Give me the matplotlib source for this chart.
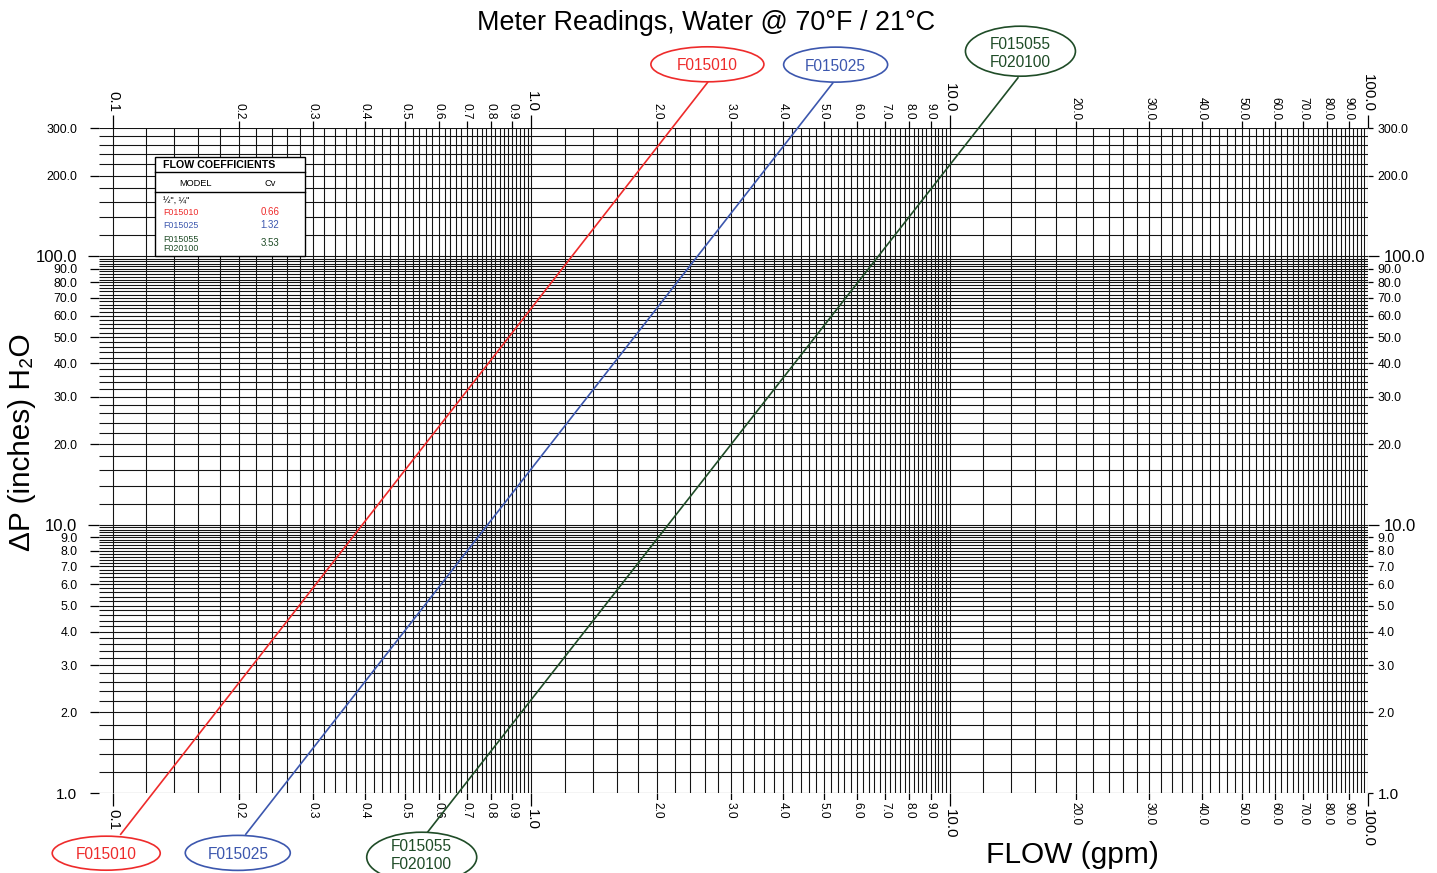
import numpy as np
import matplotlib
matplotlib.use('Agg')
import matplotlib.pyplot as plt
from matplotlib.patches import Ellipse, Rectangle
from matplotlib.ticker import NullLocator
from matplotlib import font_manager

W, H, DPI = 1437, 873, 100

# ---------------- data ----------------
model_names = ['F015010', 'F015025', 'F015055\nF020100']
cv_values = ['0.66', '1.32', '3.53']
line_colors = ['#ee2b2b', '#3c57ae', '#1f4c27']

red_flow = [0.104, 2.645]
red_dp = [0.70, 447]
blue_flow = [0.207, 5.27]
blue_dp = [0.70, 445]
green_flow = [0.562, 14.6]
green_dp = [0.71, 465]

x_tick_values = [0.1, 0.2, 0.3, 0.4, 0.5, 0.6, 0.7, 0.8, 0.9,
                 1.0, 2.0, 3.0, 4.0, 5.0, 6.0, 7.0, 8.0, 9.0,
                 10.0, 20.0, 30.0, 40.0, 50.0, 60.0, 70.0, 80.0, 90.0, 100.0]
x_tick_labels = ['0.1', '0.2', '0.3', '0.4', '0.5', '0.6', '0.7', '0.8', '0.9',
                 '1.0', '2.0', '3.0', '4.0', '5.0', '6.0', '7.0', '8.0', '9.0',
                 '10.0', '20.0', '30.0', '40.0', '50.0', '60.0', '70.0', '80.0', '90.0', '100.0']
y_tick_values = [1, 2, 3, 4, 5, 6, 7, 8, 9, 10, 20, 30, 40, 50, 60, 70, 80, 90, 100, 200, 300]
y_tick_labels = ['1.0', '2.0', '3.0', '4.0', '5.0', '6.0', '7.0', '8.0', '9.0', '10.0',
                 '20.0', '30.0', '40.0', '50.0', '60.0', '70.0', '80.0', '90.0', '100.0',
                 '200.0', '300.0']
x_big = [0.1, 1.0, 10.0, 100.0]
y_big = [10, 100]

title = 'Meter Readings, Water @ 70°F / 21°C'
xlabel = 'FLOW (gpm)'
ylabel = 'ΔP (inches) H₂O'

# ---------------- fonts ----------------
avail = {f.name for f in font_manager.fontManager.ttflist}
plt.rcParams['font.family'] = ['Liberation Sans', 'DejaVu Sans']
narrow = 'Liberation Sans Narrow' if 'Liberation Sans Narrow' in avail else None

# ---------------- figure ----------------
fig = plt.figure(figsize=(W / DPI, H / DPI), dpi=DPI)
fig.patch.set_facecolor('white')

left_px, right_px, top_px, bot_px = 99, 1368, 128.3, 793.3
ax = fig.add_axes([left_px / W, 1 - bot_px / H, (right_px - left_px) / W, (bot_px - top_px) / H])
ax.set_xscale('log')
ax.set_yscale('log')
xmin = 10 ** (2 - (right_px - left_px) / 418.3)
ax.set_xlim(xmin, 100)
ax.set_ylim(1, 300)
for s in ax.spines.values():
    s.set_visible(False)
ax.patch.set_alpha(0)

# grid lines: each decade subdivided in steps of 0.2 x decade start
xgrid = np.unique(np.round(np.concatenate(
    [d * (1 + 0.2 * np.arange(46)) for d in (0.1, 1.0, 10.0)]), 6))
ygrid = np.unique(np.round(np.concatenate(
    [d * (1 + 0.2 * np.arange(46)) for d in (1.0, 10.0)] + [100 * (1 + 0.2 * np.arange(11))]), 6))
gcol = '#141414'
ax.vlines(xgrid, 1, 300, colors=gcol, lw=0.78, zorder=1)
ax.hlines(ygrid, xmin, 100, colors=gcol, lw=0.78, zorder=1)

# lines (below the axis artists so the tick labels' white backing cuts them)
for fl, dp, c in zip([red_flow, blue_flow, green_flow], [red_dp, blue_dp, green_dp], line_colors):
    ax.plot(fl, dp, color=c, lw=1.2, clip_on=False, zorder=2, solid_capstyle='butt')

# ticks
ax.xaxis.set_minor_locator(NullLocator())
ax.yaxis.set_minor_locator(NullLocator())
ax.set_xticks(x_tick_values)
ax.set_xticklabels(x_tick_labels)
ax.set_yticks(y_tick_values)
ax.set_yticklabels(y_tick_labels)
ax.tick_params(axis='x', which='major', direction='out', top=True, bottom=True,
               labeltop=True, labelbottom=True, length=5.0, width=0.9, pad=1.5,
               labelrotation=-90, colors='black')
ax.tick_params(axis='y', which='major', direction='out', left=True, right=True,
               labelleft=True, labelright=True, length=6.5, width=0.9, pad=3,
               colors='black')

for tk, v in zip(ax.xaxis.get_major_ticks(), x_tick_values):
    big = v in x_big
    tk._apply_params(size=9.5 if big else 5.0, pad=2.0 if big else 1.2)
    fs = 10.8 if big else 8.6
    tk.label1.set_fontsize(fs)
    tk.label2.set_fontsize(fs)
    tk.label1.set_bbox(dict(facecolor='white', edgecolor='none', pad=1.0))

for tk, v in zip(ax.yaxis.get_major_ticks(), y_tick_values):
    big = v in y_big
    tk._apply_params(size=6.5 if not big else 8.0, pad=9.0 if not big else 7.5)
    tk.tick2line.set_markersize(8.0 if big else 3.8)
    fs = 12 if big else (11 if v == 1 else 8.9)
    tk.label1.set_fontsize(fs)
    tk.label2.set_fontsize(fs)

# right labels closer to their ticks
for tk, v in zip(ax.yaxis.get_major_ticks(), y_tick_values):
    big = v in y_big
    tk.label2.set_transform(ax.get_yaxis_transform(which='tick2') +
                            matplotlib.transforms.ScaledTranslation(
                                ((8.0 if big else 3.8) + 3) / 72, 0, fig.dpi_scale_trans))
    tk.label2.set_horizontalalignment('left')

# ---------------- overlay (pixel coordinates, y downwards) ----------------
ov = fig.add_axes([0, 0, 1, 1])
ov.set_xlim(0, W)
ov.set_ylim(H, 0)
ov.axis('off')
ov.patch.set_alpha(0)

ov.text(706, 23, title, ha='center', va='center', fontsize=19.4)
ov.text(1072, 855, xlabel, ha='center', va='center', fontsize=21.5)
ov.text(22, 442, ylabel, ha='center', va='center', fontsize=21.4, rotation=90,
        family=['Liberation Sans', 'DejaVu Sans'])

# legend box
ov.add_patch(Rectangle((155, 157), 150, 99, facecolor='white', edgecolor='black', lw=1.0, zorder=5))
ov.plot([155, 305], [172, 172], color='black', lw=1.0, zorder=6)
ov.plot([155, 305], [191.5, 191.5], color='black', lw=1.0, zorder=6)
ov.text(163, 165, 'FLOW COEFFICIENTS', fontsize=7.7, fontweight='bold', ha='left', va='center', zorder=7)
ov.text(195, 183.5, 'MODEL', fontsize=6.7, ha='center', va='center', zorder=7)
ov.text(270, 183, 'Cv', fontsize=6.7, ha='center', va='center', zorder=7)
ov.text(163, 200, '½", ¼"', fontsize=6.5, ha='left', va='center', zorder=7)
leg_rows = [(212.5, 212), (226, 224.5), (244, 243)]
for (ym, yc), name, cv, c in zip(leg_rows, model_names, cv_values, line_colors):
    ov.text(163, ym, name, fontsize=6.4, color=c, ha='left', va='center', zorder=7, linespacing=1.05)
    ov.text(270, yc, cv, fontsize=7.0, color=c, ha='center', va='center', zorder=7)

# ellipse labels anchored to line ends
def to_px(q, d):
    xd, yd = ax.transData.transform((q, d))
    return xd, H - yd

ell_specs = [
    # flow, dp, colour, name, offsets of centre from lower / upper end point, sizes,
    # text shift at lower / upper ellipse
    (red_flow, red_dp, line_colors[0], model_names[0], (-14, 18.3), (-0.7, -17.5), 108, 34, 113, 35, 1.5, 1.5),
    (blue_flow, blue_dp, line_colors[1], model_names[1], (-7.5, 18), (2.3, -17.7), 105, 35, 104, 35, 1.5, 1.5),
    (green_flow, green_dp, line_colors[2], model_names[2], (-5, 24), (2, -26), 110, 50, 110, 50, -1.5, 2),
]
efont = dict(fontsize=12.5, family=narrow) if narrow else dict(fontsize=11.2)
for fl, dp, c, name, off_lo, off_hi, wl, hl, wh, hh, tlo, thi in ell_specs:
    for (q, d), (dx, dy), w, h, ts in [((fl[0], dp[0]), off_lo, wl, hl, tlo),
                                       ((fl[1], dp[1]), off_hi, wh, hh, thi)]:
        px, py = to_px(q, d)
        cx, cy = px + dx, py + dy
        ov.add_patch(Ellipse((cx, cy), w, h, facecolor='white', edgecolor=c, lw=1.2, zorder=8, clip_on=False))
        ov.text(cx, cy + ts, name, color=c, ha='center', va='center', zorder=9, linespacing=1.25, **efont)

fig.savefig('out.png', dpi=DPI, facecolor='white')
